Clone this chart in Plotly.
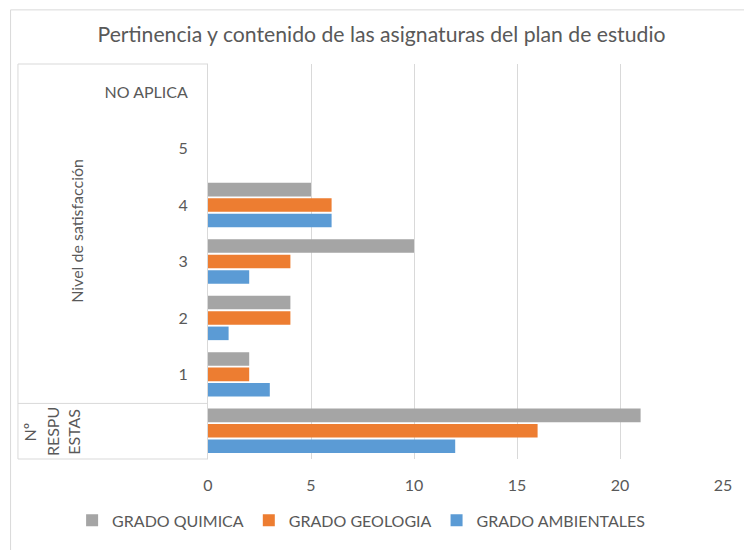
import plotly.graph_objects as go

categories = ["Nº RESPUESTAS", "1", "2", "3", "4", "5", "NO APLICA"]
tick_labels = ["", "1", "2", "3", "4", "5", "NO APLICA"]
group_label = "Nivel de satisfacción"
first_label_lines = ["Nº", "RESPU", "ESTAS"]

quimica = [21, 2, 4, 10, 5, 0, 0]
geologia = [16, 2, 4, 4, 6, 0, 0]
ambientales = [12, 3, 1, 2, 6, 0, 0]

x_ticks = [0, 5, 10, 15, 20, 25]

FONT = "Lato, 'Open Sans', sans-serif"
TXT = "#595959"
GRID = "#D9D9D9"

W, H = 744, 550
PL, PR, PT, PB = 208, 731, 64, 469  # plot box in page px
L, R, T, B = PL, W - PR, PT, H - PB
pw = PR - PL
ph = PB - PT


def px(xp):  # page x -> paper
    return (xp - PL) / pw


def py(yp):  # page y -> paper
    return (PB - yp) / ph


fig = go.Figure()
fig.add_trace(go.Bar(y=categories, x=ambientales, name="GRADO AMBIENTALES",
                     orientation="h", marker=dict(color="#5B9BD5", line=dict(width=0))))
fig.add_trace(go.Bar(y=categories, x=geologia, name="GRADO GEOLOGIA",
                     orientation="h", marker=dict(color="#ED7D31", line=dict(width=0))))
fig.add_trace(go.Bar(y=categories, x=quimica, name="GRADO QUIMICA",
                     orientation="h", marker=dict(color="#A5A5A5", line=dict(width=0))))

line = dict(color=GRID, width=1)
shapes = [
    # outer chart border (top & left visible)
    dict(type="rect", xref="paper", yref="paper", x0=px(7.5), x1=px(770), y0=py(580), y1=py(8.5), line=line),
    # category table lines
    dict(type="line", xref="paper", yref="paper", x0=px(15), x1=0, y0=py(64), y1=py(64), line=line),
    dict(type="line", xref="paper", yref="paper", x0=px(15), x1=0, y0=py(412), y1=py(412), line=line),
    dict(type="line", xref="paper", yref="paper", x0=px(15), x1=0, y0=py(469), y1=py(469), line=line),
    dict(type="line", xref="paper", yref="paper", x0=px(15), x1=px(15), y0=py(64), y1=py(469), line=line),
]

annotations = [
    dict(text=group_label, xref="paper", yref="paper", x=px(75), y=py(235),
         xanchor="center", yanchor="middle",
         textangle=-90, showarrow=False, font=dict(family=FONT, size=16, color=TXT)),
]
for xpos, txt in zip([27, 50, 72], first_label_lines):
    annotations.append(dict(text=txt, xref="paper", yref="paper", x=px(xpos), y=py(441),
                            xanchor="center", yanchor="middle", textangle=-90,
                            showarrow=False, font=dict(family=FONT, size=16, color=TXT)))

fig.update_layout(
    width=W, height=H,
    margin=dict(l=L, r=R, t=T, b=B, pad=0),
    paper_bgcolor="white", plot_bgcolor="white",
    barmode="group", bargap=0.18, bargroupgap=0.12,
    title=dict(text="Pertinencia y contenido de las asignaturas del plan de estudio",
               xref="container", yref="container",
               x=381.5 / W, y=1 - 35 / H, xanchor="center", yanchor="middle",
               font=dict(family=FONT, size=21.2, color=TXT)),
    font=dict(family=FONT, size=16, color=TXT),
    xaxis=dict(range=[0, 25], tickvals=x_ticks, showgrid=True, gridcolor=GRID, gridwidth=1,
               zeroline=False, showline=False, ticks="outside", ticklen=12,
               tickcolor="rgba(0,0,0,0)", tickfont=dict(family=FONT, size=16, color=TXT)),
    yaxis=dict(type="category", categoryorder="array", categoryarray=categories,
               tickvals=categories, ticktext=tick_labels,
               range=[-0.5, len(categories) - 0.5],
               showgrid=False, zeroline=False, showline=True, linecolor=GRID, linewidth=1,
               ticks="outside", ticklen=16, tickcolor="rgba(0,0,0,0)",
               tickfont=dict(family=FONT, size=16, color=TXT)),
    legend=dict(orientation="h", traceorder="reversed",
                x=px(70), xanchor="left", y=py(532), yanchor="middle",
                font=dict(family=FONT, size=16, color=TXT), itemwidth=30),
    shapes=shapes,
    annotations=annotations,
)

fig.write_html("out.html", config={"displayModeBar": False},
               post_script="document.body.style.margin='0';document.body.style.overflow='hidden';")
